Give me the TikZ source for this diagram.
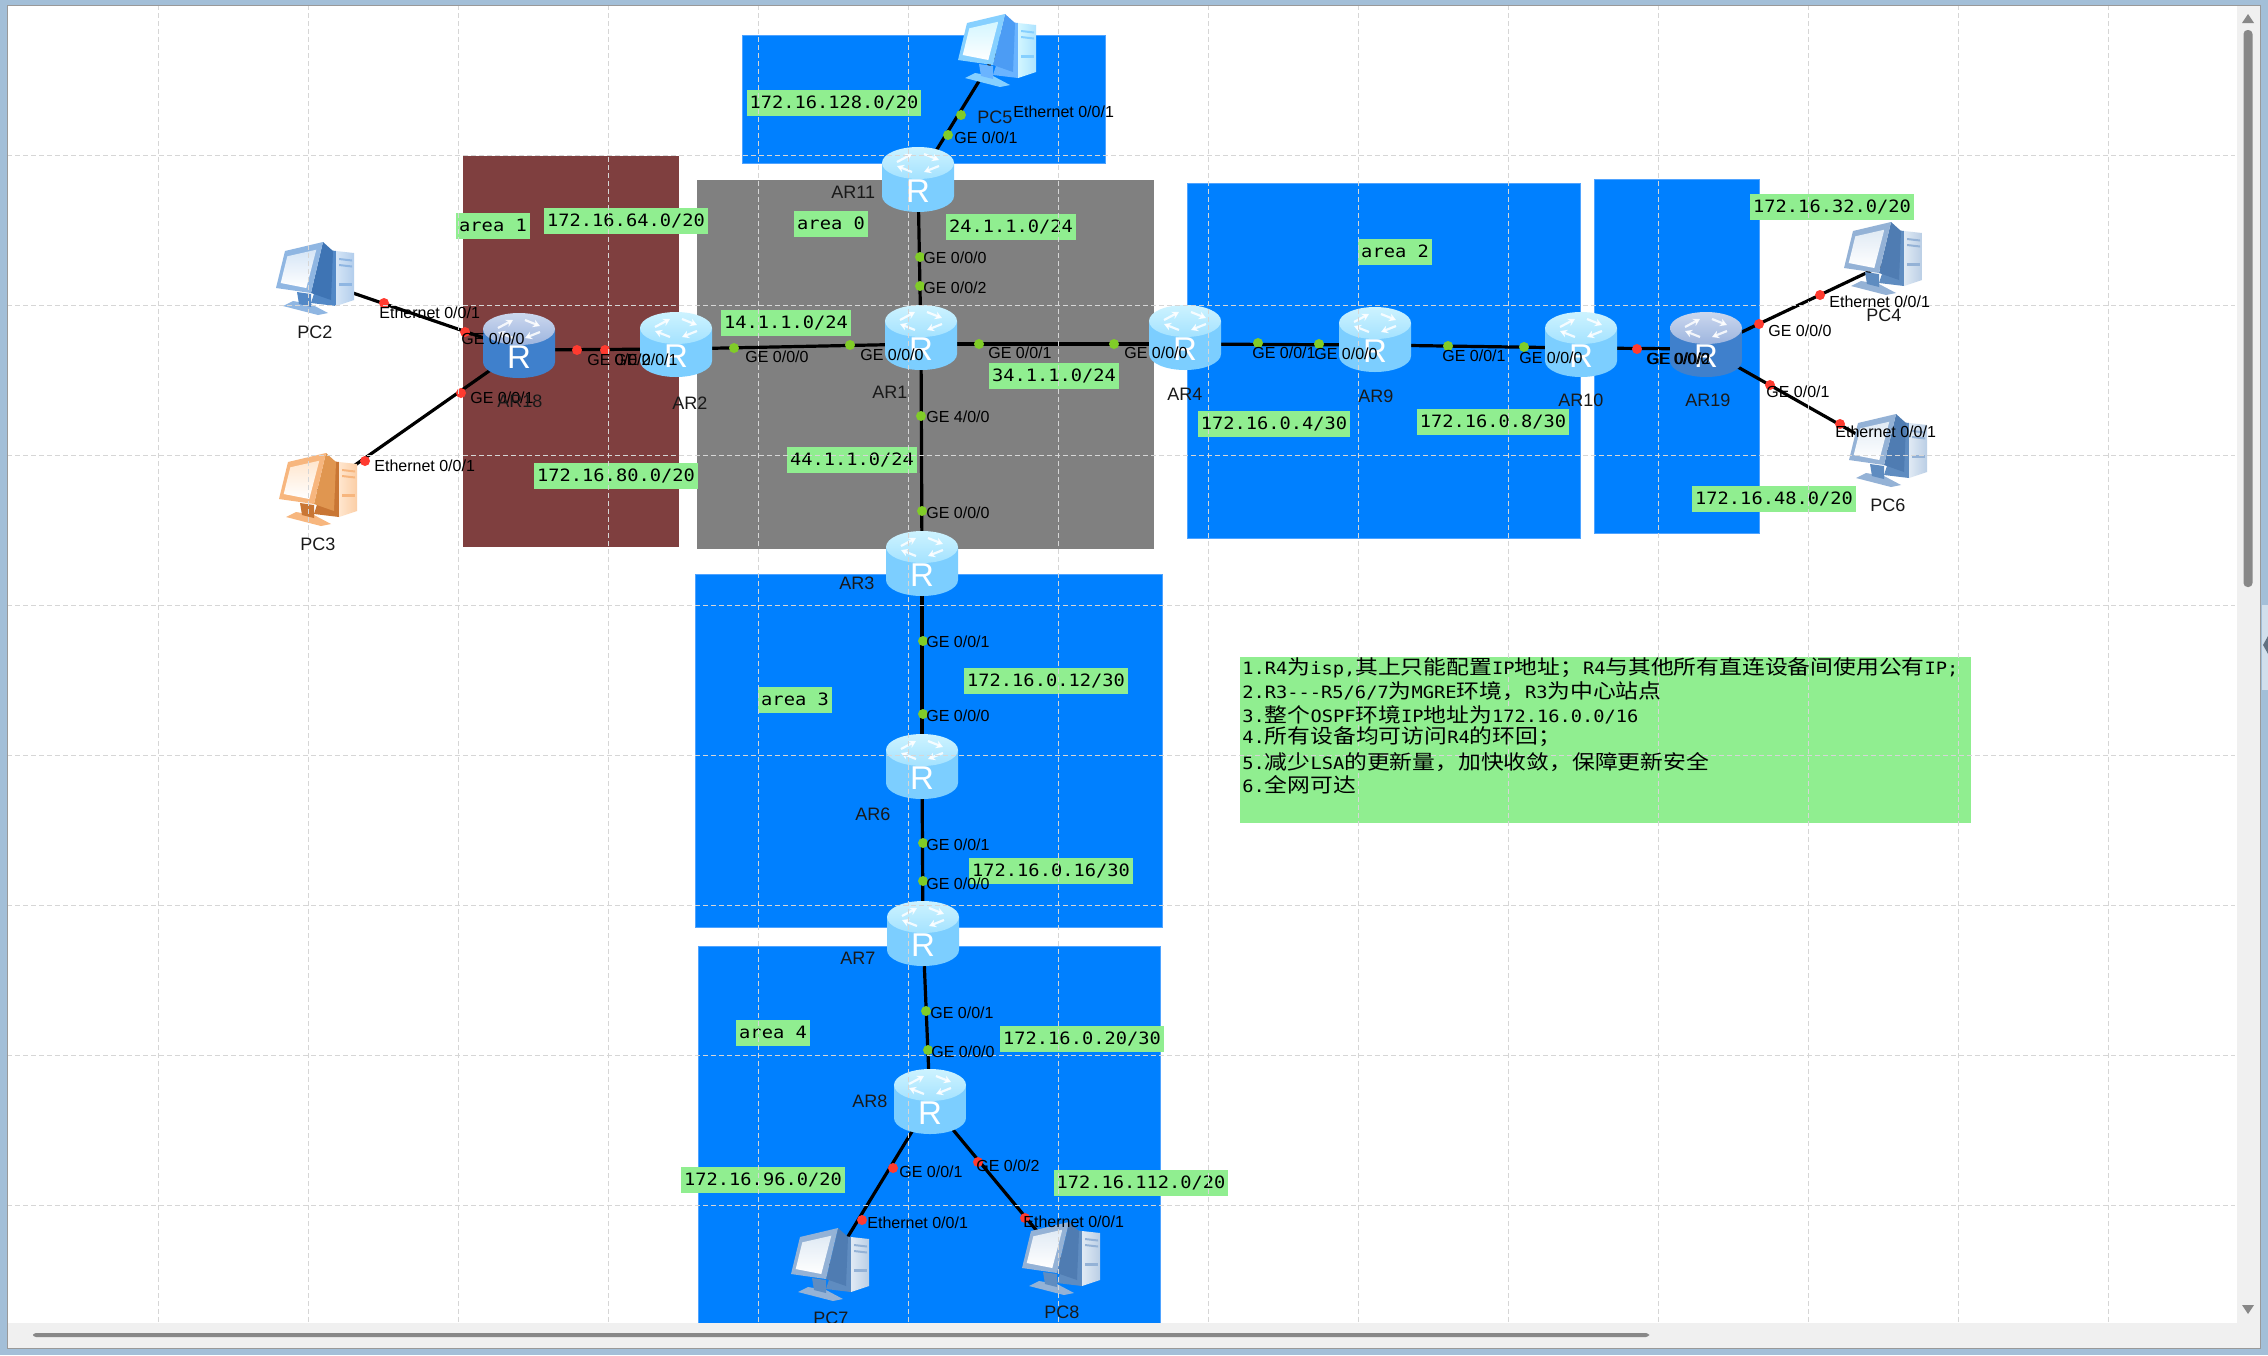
\documentclass[tikz,border=0pt]{standalone}
\usepackage{fontspec}
\usetikzlibrary{arrows.meta}
\setmainfont{Liberation Sans}
\newfontfamily\monof[FakeStretch=1.1]{DejaVu Sans Mono}
\newfontfamily\cjkf[FakeStretch=1.14]{Noto Sans CJK SC}
\newcommand\Zh[1]{{\fontsize{10pt}{11pt}\cjkf #1}}
\definecolor{areablue}{HTML}{0080FF}
\definecolor{areaedge}{HTML}{4FA3FF}
\definecolor{areagray}{HTML}{808080}
\definecolor{areabrown}{HTML}{7F3F3F}
\definecolor{tagfill}{HTML}{90EE90}
\definecolor{dotred}{HTML}{FF3B30}
\definecolor{dotgreen}{HTML}{80CC28}
\definecolor{gridc}{HTML}{D6D6D6}
\definecolor{frame}{HTML}{A3BFD8}
\definecolor{band}{HTML}{F0F0F0}
\definecolor{thumb}{HTML}{888888}
\definecolor{rlA}{HTML}{7CCEFF}\definecolor{rlB}{HTML}{B4E8FF}\definecolor{rlC}{HTML}{CDF3FF}\definecolor{rlD}{HTML}{A4E2FF}
\definecolor{rdA}{HTML}{3F80CC}\definecolor{rdB}{HTML}{74ACE4}\definecolor{rdC}{HTML}{CBD7EE}\definecolor{rdD}{HTML}{9DB5DE}
\definecolor{pbA}{HTML}{D5E5F6}\definecolor{pbB}{HTML}{8FB6E2}\definecolor{pbC}{HTML}{5288C6}\definecolor{pbD}{HTML}{3E74B4}
\definecolor{poA}{HTML}{FFE6CE}\definecolor{poB}{HTML}{F7B67E}\definecolor{poC}{HTML}{C97634}\definecolor{poD}{HTML}{E09650}
\definecolor{pcA}{HTML}{D3F6FF}\definecolor{pcB}{HTML}{86D0FF}\definecolor{pcC}{HTML}{6AB4FF}\definecolor{pcD}{HTML}{4C9CF4}
\definecolor{pgA}{HTML}{E0EAF4}\definecolor{pgB}{HTML}{94B2D6}\definecolor{pgC}{HTML}{5F8CC0}\definecolor{pgD}{HTML}{4F7CB2}
\newcommand\RouterDraw[5]{%
  \shade[left color=#1,middle color=#2,right color=#1] (-36,-17) -- (-36,16)
     arc[start angle=180,end angle=360,x radius=18pt,y radius=8pt] -- (36,-17) -- cycle;
  \shade[top color=#3,bottom color=#4] (0,-17) ellipse [x radius=18pt,y radius=8pt];
  \draw[white,line width=1.1pt,opacity=.85,-{Stealth[length=3.5pt,width=4pt]}] (-21,-18) -- (-6,-26);
  \draw[white,line width=1.1pt,opacity=.85,-{Stealth[length=3.5pt,width=4pt]}] (6,-26) -- (21,-20);
  \draw[white,line width=1.1pt,opacity=.85,-{Stealth[length=3.5pt,width=4pt]}] (21,-14) -- (6,-8);
  \draw[white,line width=1.1pt,opacity=.85,-{Stealth[length=3.5pt,width=4pt]}] (-6,-8) -- (-21,-14);
  \node[text=#5,inner sep=0pt,font=\fontsize{16.5pt}{18pt}\selectfont] (-r) at (0,11) {R};
}
\newcommand\PCDraw[4]{%
  \fill[#3] (13,-30) -- (21,-29) -- (21,26) -- (-4,23) -- cycle;
  \shade[left color=#1,right color=#2!50!#1] (21,-29) -- (39,-27) -- (39,20) -- (21,26) -- cycle;
  \fill[#2] (24,-22) -- (37,-20.5) -- (37,-18.5) -- (24,-20) -- cycle;
  \fill[#2] (24,-16) -- (37,-14.5) -- (37,-12.5) -- (24,-14) -- cycle;
  \fill[#2] (24,3) -- (37,3) -- (37,5.5) -- (24,5.5) -- cycle;
  \fill[#2] (-32,26) -- (-22,21) -- (-4,24) -- (13,33) -- (3,35) -- cycle;
  \fill[#3] (-18,12) -- (-4,14) -- (-4,27) -- (-16,24) -- cycle;
  \fill[#4] (8,-38) -- (18,-29) -- (16,20) -- (-4,13) -- cycle;
  \fill[#2] (-30,-29) -- (8,-38) -- (-4,13) -- (-39,8) -- cycle;
  \shade[top color=#1,bottom color=white] (-27.7,-23.7) -- (1.3,-30.3) -- (-8.7,8) -- (-34.3,3) -- cycle;
}
\tikzset{
  x=0.5pt,y=-0.5pt,
  pics/rtlight/.style={code={\RouterDraw{rlA}{rlB}{rlC}{rlD}{white}}},
  pics/rtdark/.style={code={\RouterDraw{rdA}{rdB}{rdC}{rdD}{white}}},
  pics/pcblue/.style={code={\PCDraw{pbA}{pbB}{pbC}{pbD}}},
  pics/pcorange/.style={code={\PCDraw{poA}{poB}{poC}{poD}}},
  pics/pccyan/.style={code={\PCDraw{pcA}{pcB}{pcC}{pcD}}},
  pics/pcgrey/.style={code={\PCDraw{pgA}{pgB}{pgC}{pgD}}},
  arearect/.style={fill=areablue,draw=areaedge,line width=.4pt},
  devbox/.style={inner sep=0pt,minimum width=36pt,minimum height=32pt},
  greentag/.style={fill=tagfill,inner xsep=1.5pt,inner ysep=0pt,minimum height=13pt,text=black,
    font=\monof\fontsize{8.5pt}{10pt}\selectfont,text height=6.5pt,text depth=1.2pt},
  portlabel/.style={anchor=west,inner sep=0pt,text=black,font=\fontsize{8pt}{9pt}\selectfont},
  devlabel/.style={anchor=west,inner sep=0pt,text=black!90,font=\fontsize{9pt}{10pt}\selectfont},
  noteline/.style={anchor=west,inner sep=0pt,text=black,font=\monof\fontsize{8.5pt}{10pt}\selectfont},
  linkline/.style={line width=1.6pt,black},
  gridline/.style={gridc,line width=.5pt,dash pattern=on 2.5pt off 1.5pt},
}
\begin{document}
\begin{tikzpicture}
\useasboundingbox (0,0) rectangle (2268,1355);
\fill[white] (0,0) rectangle (2268,1355);
% areas
\fill[areabrown] (463,156) rectangle (679,547);
\fill[areagray] (697,180) rectangle (1154,549);
\filldraw[arearect] (742,35) rectangle (1105,163);
\filldraw[arearect] (1187,183) rectangle (1580,538);
\filldraw[arearect] (1594,179) rectangle (1759,533);
\filldraw[arearect] (695,574) rectangle (1162,927);
\filldraw[arearect] (698,946) rectangle (1160,1330);
% note box
\node[fill=tagfill,inner sep=0pt,minimum width=365.5pt,minimum height=83pt] (notebox) at (1605,740) {};
% tags
\foreach \x/\y/\t [count=\i] in {
  493/226/{area 1}, 626/221/{172.16.64.0/20}, 831/224/{area 0}, 834/103/{172.16.128.0/20},
  1011/227/{24.1.1.0/24}, 786/323/{14.1.1.0/24}, 852/460/{44.1.1.0/24}, 616/476/{172.16.80.0/20},
  1054/376/{34.1.1.0/24}, 1274/424/{172.16.0.4/30}, 1493/422/{172.16.0.8/30}, 1395/252/{area 2},
  1832/207/{172.16.32.0/20}, 1774/499/{172.16.48.0/20}, 795/700/{area 3}, 1046/681/{172.16.0.12/30},
  1051/871/{172.16.0.16/30}, 773/1033/{area 4}, 1082/1039/{172.16.0.20/30}, 763/1180/{172.16.96.0/20},
  1141/1183/{172.16.112.0/20}}
  \node[greentag] (tag\i) at (\x,\y) {\t};
% devices (node centres are where the links meet)
\foreach \n/\x/\y in {AR11/918/180,AR1/921/344,AR2/676/349,AR18/519/350,AR4/1185/344,AR9/1375/345,
  AR10/1581/348,AR19/1706/349,AR3/922/564,AR6/922/767,AR7/923/934,AR8/930/1102,
  PC2/315/280,PC3/318/491,PC5/997/52,PC4/1883/265,PC6/1888/452,PC7/830/1266,PC8/1061/1260}
  \node[devbox] (\n) at (\x,\y) {};
% connectors
\foreach \a/\b in {PC2/AR18,PC3/AR18,AR18/AR2,AR2/AR1,AR11/AR1,PC5/AR11,AR1/AR4,AR4/AR9,AR9/AR10,
  AR10/AR19,AR19/PC4,AR19/PC6,AR1/AR3,AR3/AR6,AR6/AR7,AR7/AR8,AR8/PC7,AR8/PC8}
  \draw[linkline] (\a.center) -- (\b.center);
% interface dots
\foreach \x/\y in {384/303,465/332,461/393,365/461,577/350,605/350,1637/349,1759/324,1820/295,
  1770/385,1840/424,893/1168,862/1220,978/1162,1025/1218}
  \fill[dotred] (\x,\y) circle (2.5pt);
\foreach \x/\y in {734/348,850/345,920/257,920/286,921/416,922/511,961/115,948/135,979/344,1114/344,
  1258/343,1319/344,1448/346,1524/347,923/641,923/714,923/843,923/881,926/1011,928/1050}
  \fill[dotgreen] (\x,\y) circle (2.5pt);
% icons
\foreach \n/\x/\y in {AR11/918/180,AR1/921/338,AR2/676/345,AR4/1185/338,AR9/1375/340,AR10/1581/345,
  AR3/922/564,AR6/922/767,AR7/923/934,AR8/930/1102}
  \pic (p\n) at (\x,\y) {rtlight};
\foreach \n/\x/\y in {AR18/519/346,AR19/1706/345}
  \pic (p\n) at (\x,\y) {rtdark};
\pic (pPC2) at (315,280) {pcblue};
\pic (pPC3) at (318,491) {pcorange};
\pic (pPC5) at (997,52) {pccyan};
\foreach \n/\x/\y in {PC4/1883/260,PC6/1888/452,PC7/830/1266,PC8/1061/1260}
  \pic (p\n) at (\x,\y) {pcgrey};
% grid
\foreach \x in {158,308,...,2108} \draw[gridline] (\x,5) -- (\x,1322);
\foreach \y in {155,305,...,1205} \draw[gridline] (7,\y) -- (2235,\y);
% port labels
\foreach \x/\y/\t [count=\i] in {
  379/313/{Ethernet 0/0/1}, 461/339/{GE 0/0/0}, 470/398/{GE 0/0/1}, 374/466/{Ethernet 0/0/1},
  587/360/{GE 0/0/2}, 614/360/{GE 0/0/1}, 745/357/{GE 0/0/0}, 860/355/{GE 0/0/0},
  923/258/{GE 0/0/0}, 923/288/{GE 0/0/2}, 1013/112/{Ethernet 0/0/1}, 954/138/{GE 0/0/1},
  926/417/{GE 4/0/0}, 926/513/{GE 0/0/0}, 988/353/{GE 0/0/1}, 1124/353/{GE 0/0/0},
  1252/353/{GE 0/0/1}, 1314/354/{GE 0/0/0}, 1442/356/{GE 0/0/1}, 1519/358/{GE 0/0/0},
  1646/359/{GE 0/0/0}, 1647/359/{GE 0/0/2}, 1768/331/{GE 0/0/0}, 1766/392/{GE 0/0/1},
  1829/302/{Ethernet 0/0/1}, 1835/432/{Ethernet 0/0/1}, 926/642/{GE 0/0/1}, 926/716/{GE 0/0/0},
  926/845/{GE 0/0/1}, 926/884/{GE 0/0/0}, 930/1013/{GE 0/0/1}, 931/1052/{GE 0/0/0},
  899/1172/{GE 0/0/1}, 976/1166/{GE 0/0/2}, 867/1223/{Ethernet 0/0/1}, 1023/1222/{Ethernet 0/0/1}}
  \node[portlabel] (port\i) at (\x,\y) {\t};
% device names
\foreach \x/\y/\t [count=\i] in {
  297/332/PC2, 300/544/PC3, 977/117/PC5, 1866/315/PC4, 1870/505/PC6, 813/1318/PC7, 1044/1312/PC8,
  497/401/AR18, 672/403/AR2, 872/392/AR1, 831/192/AR11, 1167/394/AR4, 1358/396/AR9,
  1558/400/AR10, 1685/400/AR19, 839/583/AR3, 855/814/AR6, 840/958/AR7, 852/1101/AR8}
  \node[devlabel] (name\i) at (\x,\y) {\t};
% note text
\node[noteline] (note1) at (1242,668) {1.R4\Zh{为}isp,\Zh{其上只能配置}IP\Zh{地址；}R4\Zh{与其他所有直连设备间使用公有}IP;};
\node[noteline] (note2) at (1242,691.5) {2.R3{-}{-}{-}R5/6/7\Zh{为}MGRE\Zh{环境，}R3\Zh{为中心站点}};
\node[noteline] (note3) at (1242,715) {3.\Zh{整个}OSPF\Zh{环境}IP\Zh{地址为}172.16.0.0/16};
\node[noteline] (note4) at (1242,737) {4.\Zh{所有设备均可访问}R4\Zh{的环回；}};
\node[noteline] (note5) at (1242,762) {5.\Zh{减少}LSA\Zh{的更新量，加快收敛，保障更新安全}};
\node[noteline] (note6) at (1242,785) {6.\Zh{全网可达}};
% window chrome
\fill[band] (0,1323) rectangle (2268,1355);
\fill[band] (2237,0) rectangle (2268,1355);
\fill[thumb,rounded corners=1.5pt] (33,1333) rectangle (1649,1337);
\fill[thumb,rounded corners=2pt] (2243.5,30) rectangle (2252.5,587);
\fill[thumb] (2242,23) -- (2248,14) -- (2254,23) -- cycle;
\fill[thumb] (2242,1305) -- (2248,1314) -- (2254,1305) -- cycle;
\fill[frame] (0,0) rectangle (2268,5);
\fill[frame] (0,0) rectangle (7,1355);
\fill[frame] (0,1348) rectangle (2268,1355);
\fill[frame] (2260,0) rectangle (2268,1355);
\draw[black!40,line width=.4pt] (7,1348) -- (2260,1348) -- (2260,5) -- (7,5) -- cycle;
\fill[frame!50!white] (2262,605) rectangle (2268,690);
\fill[frame!60!black] (2268,636) -- (2263,645) -- (2268,654) -- cycle;
\end{tikzpicture}
\end{document}
